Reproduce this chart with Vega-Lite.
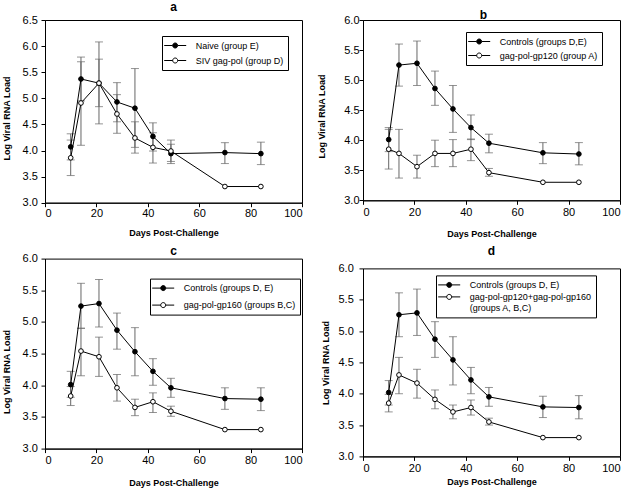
{
  "$schema": "https://vega.github.io/schema/vega-lite/v6.json",
  "padding": {"left": 1, "top": 0, "right": 0, "bottom": 0},
  "background": "white",
  "resolve": {"scale": {"fill": "independent", "x": "independent", "y": "independent"}, "legend": {"fill": "independent"}},
  "config": {
    "font": "Liberation Sans",
    "view": {"stroke": "black", "strokeWidth": 1},
    "axis": {"grid": false, "domainColor": "black", "tickColor": "black", "labelColor": "black", "titleColor": "black", "labelFontSize": 11, "titleFontSize": 9, "titleFontWeight": "bold", "tickSize": 4, "labelPadding": 2, "labelOverlap": false, "labelFont": "Liberation Sans", "titleFont": "Liberation Sans"},
    "title": {"fontSize": 12, "fontWeight": "bold", "color": "black", "frame": "group", "font": "Liberation Sans"},
    "legend": {"title": null, "orient": "none", "strokeColor": "black", "fillColor": "white", "padding": 4, "labelFontSize": 9, "labelFont": "Liberation Sans", "labelColor": "black", "symbolType": "M-2.2,0H-0.5M0.5,0H2.2M0.5,0A0.5,0.5,0,1,1,-0.5,0A0.5,0.5,0,1,1,0.5,0Z", "symbolSize": 100, "symbolStrokeColor": "black", "symbolStrokeWidth": 1, "symbolOffset": 3.7, "labelOffset": 15, "rowPadding": 4}
  },
  "datasets": {
    "a": [
      {"day": 10, "group": "Naive (group E)", "mean": 4.07, "lo": 3.82, "hi": 4.32},
      {"day": 14, "group": "Naive (group E)", "mean": 5.37, "lo": 4.95, "hi": 5.79},
      {"day": 21, "group": "Naive (group E)", "mean": 5.29, "lo": 4.84, "hi": 5.75},
      {"day": 28, "group": "Naive (group E)", "mean": 4.93, "lo": 4.55, "hi": 5.30},
      {"day": 35, "group": "Naive (group E)", "mean": 4.81, "lo": 4.06, "hi": 5.57},
      {"day": 42, "group": "Naive (group E)", "mean": 4.27, "lo": 3.99, "hi": 4.53},
      {"day": 49, "group": "Naive (group E)", "mean": 3.94, "lo": 3.75, "hi": 4.12},
      {"day": 70, "group": "Naive (group E)", "mean": 3.96, "lo": 3.75, "hi": 4.15},
      {"day": 84, "group": "Naive (group E)", "mean": 3.94, "lo": 3.73, "hi": 4.16},
      {"day": 10, "group": "SIV gag-pol (group D)", "mean": 3.86, "lo": 3.52, "hi": 4.20},
      {"day": 14, "group": "SIV gag-pol (group D)", "mean": 4.91, "lo": 4.10, "hi": 5.70},
      {"day": 21, "group": "SIV gag-pol (group D)", "mean": 5.29, "lo": 4.51, "hi": 6.08},
      {"day": 28, "group": "SIV gag-pol (group D)", "mean": 4.70, "lo": 4.33, "hi": 5.07},
      {"day": 35, "group": "SIV gag-pol (group D)", "mean": 4.24, "lo": 3.95, "hi": 4.55},
      {"day": 42, "group": "SIV gag-pol (group D)", "mean": 4.06, "lo": 3.76, "hi": 4.34},
      {"day": 49, "group": "SIV gag-pol (group D)", "mean": 3.99, "lo": 3.79, "hi": 4.20},
      {"day": 70, "group": "SIV gag-pol (group D)", "mean": 3.31, "lo": null, "hi": null},
      {"day": 84, "group": "SIV gag-pol (group D)", "mean": 3.31, "lo": null, "hi": null}
    ],
    "b": [
      {"day": 10, "group": "Controls (groups D,E)", "mean": 4.01, "lo": 3.81, "hi": 4.21},
      {"day": 14, "group": "Controls (groups D,E)", "mean": 5.25, "lo": 4.90, "hi": 5.60},
      {"day": 21, "group": "Controls (groups D,E)", "mean": 5.28, "lo": 4.91, "hi": 5.65},
      {"day": 28, "group": "Controls (groups D,E)", "mean": 4.86, "lo": 4.58, "hi": 5.15},
      {"day": 35, "group": "Controls (groups D,E)", "mean": 4.52, "lo": 4.13, "hi": 4.91},
      {"day": 42, "group": "Controls (groups D,E)", "mean": 4.21, "lo": 4.01, "hi": 4.42},
      {"day": 49, "group": "Controls (groups D,E)", "mean": 3.95, "lo": 3.79, "hi": 4.10},
      {"day": 70, "group": "Controls (groups D,E)", "mean": 3.79, "lo": 3.61, "hi": 3.96},
      {"day": 84, "group": "Controls (groups D,E)", "mean": 3.77, "lo": 3.59, "hi": 3.96},
      {"day": 10, "group": "gag-pol-gp120 (group A)", "mean": 3.85, "lo": 3.52, "hi": 4.18},
      {"day": 14, "group": "gag-pol-gp120 (group A)", "mean": 3.78, "lo": 3.37, "hi": 4.18},
      {"day": 21, "group": "gag-pol-gp120 (group A)", "mean": 3.56, "lo": 3.37, "hi": 3.75},
      {"day": 28, "group": "gag-pol-gp120 (group A)", "mean": 3.78, "lo": 3.56, "hi": 4.00},
      {"day": 35, "group": "gag-pol-gp120 (group A)", "mean": 3.78, "lo": 3.56, "hi": 4.01},
      {"day": 42, "group": "gag-pol-gp120 (group A)", "mean": 3.85, "lo": 3.66, "hi": 4.02},
      {"day": 49, "group": "gag-pol-gp120 (group A)", "mean": 3.46, "lo": 3.40, "hi": 3.53},
      {"day": 70, "group": "gag-pol-gp120 (group A)", "mean": 3.30, "lo": null, "hi": null},
      {"day": 84, "group": "gag-pol-gp120 (group A)", "mean": 3.30, "lo": null, "hi": null}
    ],
    "c": [
      {"day": 10, "group": "Controls (groups D, E)", "mean": 4.01, "lo": 3.81, "hi": 4.22},
      {"day": 14, "group": "Controls (groups D, E)", "mean": 5.25, "lo": 4.90, "hi": 5.61},
      {"day": 21, "group": "Controls (groups D, E)", "mean": 5.29, "lo": 4.92, "hi": 5.67},
      {"day": 28, "group": "Controls (groups D, E)", "mean": 4.87, "lo": 4.57, "hi": 5.14},
      {"day": 35, "group": "Controls (groups D, E)", "mean": 4.53, "lo": 4.15, "hi": 4.91},
      {"day": 42, "group": "Controls (groups D, E)", "mean": 4.22, "lo": 4.00, "hi": 4.42},
      {"day": 49, "group": "Controls (groups D, E)", "mean": 3.96, "lo": 3.81, "hi": 4.11},
      {"day": 70, "group": "Controls (groups D, E)", "mean": 3.79, "lo": 3.62, "hi": 3.96},
      {"day": 84, "group": "Controls (groups D, E)", "mean": 3.78, "lo": 3.60, "hi": 3.96},
      {"day": 10, "group": "gag-pol-gp160 (groups B,C)", "mean": 3.83, "lo": 3.68, "hi": 3.98},
      {"day": 14, "group": "gag-pol-gp160 (groups B,C)", "mean": 4.54, "lo": 4.15, "hi": 4.90},
      {"day": 21, "group": "gag-pol-gp160 (groups B,C)", "mean": 4.45, "lo": 4.14, "hi": 4.76},
      {"day": 28, "group": "gag-pol-gp160 (groups B,C)", "mean": 3.96, "lo": 3.75, "hi": 4.17},
      {"day": 35, "group": "gag-pol-gp160 (groups B,C)", "mean": 3.65, "lo": 3.52, "hi": 3.78},
      {"day": 42, "group": "gag-pol-gp160 (groups B,C)", "mean": 3.74, "lo": 3.57, "hi": 3.88},
      {"day": 49, "group": "gag-pol-gp160 (groups B,C)", "mean": 3.59, "lo": 3.51, "hi": 3.67},
      {"day": 70, "group": "gag-pol-gp160 (groups B,C)", "mean": 3.30, "lo": null, "hi": null},
      {"day": 84, "group": "gag-pol-gp160 (groups B,C)", "mean": 3.30, "lo": null, "hi": null}
    ],
    "d": [
      {"day": 10, "group": "Controls (groups D, E)", "mean": 4.02, "lo": 3.82, "hi": 4.21},
      {"day": 14, "group": "Controls (groups D, E)", "mean": 5.26, "lo": 4.91, "hi": 5.61},
      {"day": 21, "group": "Controls (groups D, E)", "mean": 5.29, "lo": 4.93, "hi": 5.67},
      {"day": 28, "group": "Controls (groups D, E)", "mean": 4.87, "lo": 4.58, "hi": 5.15},
      {"day": 35, "group": "Controls (groups D, E)", "mean": 4.54, "lo": 4.14, "hi": 4.91},
      {"day": 42, "group": "Controls (groups D, E)", "mean": 4.22, "lo": 4.00, "hi": 4.42},
      {"day": 49, "group": "Controls (groups D, E)", "mean": 3.95, "lo": 3.80, "hi": 4.10},
      {"day": 70, "group": "Controls (groups D, E)", "mean": 3.79, "lo": 3.62, "hi": 3.96},
      {"day": 84, "group": "Controls (groups D, E)", "mean": 3.78, "lo": 3.60, "hi": 3.97},
      {"day": 10, "group": "gag-pol-gp120+gag-pol-gp160 (groups A, B,C)", "mean": 3.85, "lo": 3.71, "hi": 3.99},
      {"day": 14, "group": "gag-pol-gp120+gag-pol-gp160 (groups A, B,C)", "mean": 4.30, "lo": 4.00, "hi": 4.58},
      {"day": 21, "group": "gag-pol-gp120+gag-pol-gp160 (groups A, B,C)", "mean": 4.17, "lo": 3.93, "hi": 4.39},
      {"day": 28, "group": "gag-pol-gp120+gag-pol-gp160 (groups A, B,C)", "mean": 3.91, "lo": 3.76, "hi": 4.06},
      {"day": 35, "group": "gag-pol-gp120+gag-pol-gp160 (groups A, B,C)", "mean": 3.71, "lo": 3.60, "hi": 3.82},
      {"day": 42, "group": "gag-pol-gp120+gag-pol-gp160 (groups A, B,C)", "mean": 3.78, "lo": 3.66, "hi": 3.90},
      {"day": 49, "group": "gag-pol-gp120+gag-pol-gp160 (groups A, B,C)", "mean": 3.55, "lo": 3.50, "hi": 3.61},
      {"day": 70, "group": "gag-pol-gp120+gag-pol-gp160 (groups A, B,C)", "mean": 3.30, "lo": null, "hi": null},
      {"day": 84, "group": "gag-pol-gp120+gag-pol-gp160 (groups A, B,C)", "mean": 3.30, "lo": null, "hi": null}
    ]
  },
  "hconcat": [
    {
      "resolve": {"scale": {"fill": "independent", "x": "independent", "y": "independent"}, "legend": {"fill": "independent"}},
      "bounds": "flush",
      "spacing": 55.6,
      "vconcat": [
        {
          "title": {"text": "a", "offset": 0},
          "width": 257, "height": 182.7,
          "data": {"name": "a"},
          "encoding": {"x": {"field": "day", "type": "quantitative", "scale": {"domain": [0, 100], "nice": false}, "axis": {"values": [0, 20, 40, 60, 80, 100], "title": "Days Post-Challenge", "titlePadding": 10, "labelPadding": 1}}},
          "layer": [
            {"transform": [{"filter": "isValid(datum.lo)"}], "mark": {"type": "errorbar", "ticks": {"size": 8}, "color": "#666"},
             "encoding": {"y": {"field": "lo", "type": "quantitative", "scale": {"domain": [3, 6.5], "nice": false}, "axis": {"values": [3, 3.5, 4, 4.5, 5, 5.5, 6, 6.5], "format": ".1f", "title": "Log Viral RNA Load", "titlePadding": 11, "labelPadding": 3.6, "titleY": 98}}, "y2": {"field": "hi"}}},
            {"mark": {"type": "line", "color": "black", "strokeWidth": 1}, "encoding": {"y": {"field": "mean", "type": "quantitative", "scale": {"domain": [3, 6.5], "nice": false}, "axis": {"values": [3, 3.5, 4, 4.5, 5, 5.5, 6, 6.5], "format": ".1f", "title": "Log Viral RNA Load", "titlePadding": 11, "labelPadding": 3.6, "titleY": 98}}, "detail": {"field": "group"}}},
            {"mark": {"type": "point", "shape": "circle", "filled": true, "size": 22, "stroke": "black", "strokeWidth": 1, "opacity": 1},
             "encoding": {"y": {"field": "mean", "type": "quantitative", "scale": {"domain": [3, 6.5], "nice": false}, "axis": {"values": [3, 3.5, 4, 4.5, 5, 5.5, 6, 6.5], "format": ".1f", "title": "Log Viral RNA Load", "titlePadding": 11, "labelPadding": 3.6, "titleY": 98}}, "fill": {"field": "group", "type": "nominal", "scale": {"domain": ["Naive (group E)", "SIV gag-pol (group D)"], "range": ["black", "white"]}, "legend": {"legendX": 117, "legendY": 16}}}}
          ]
        },
        {
          "title": {"text": "c", "offset": -5.7},
          "width": 257, "height": 190,
          "data": {"name": "c"},
          "encoding": {"x": {"field": "day", "type": "quantitative", "scale": {"domain": [0, 100], "nice": false}, "axis": {"values": [0, 20, 40, 60, 80, 100], "title": "Days Post-Challenge", "titlePadding": 13, "labelPadding": 2}}},
          "layer": [
            {"transform": [{"filter": "isValid(datum.lo)"}], "mark": {"type": "errorbar", "ticks": {"size": 8}, "color": "#666"},
             "encoding": {"y": {"field": "lo", "type": "quantitative", "scale": {"domain": [3, 6], "nice": false}, "axis": {"values": [3, 3.5, 4, 4.5, 5, 5.5, 6], "format": ".1f", "title": "Log Viral RNA Load", "titlePadding": 11, "labelPadding": 3.6, "titleY": 113}}, "y2": {"field": "hi"}}},
            {"mark": {"type": "line", "color": "black", "strokeWidth": 1}, "encoding": {"y": {"field": "mean", "type": "quantitative", "scale": {"domain": [3, 6], "nice": false}, "axis": {"values": [3, 3.5, 4, 4.5, 5, 5.5, 6], "format": ".1f", "title": "Log Viral RNA Load", "titlePadding": 11, "labelPadding": 3.6, "titleY": 113}}, "detail": {"field": "group"}}},
            {"mark": {"type": "point", "shape": "circle", "filled": true, "size": 22, "stroke": "black", "strokeWidth": 1, "opacity": 1},
             "encoding": {"y": {"field": "mean", "type": "quantitative", "scale": {"domain": [3, 6], "nice": false}, "axis": {"values": [3, 3.5, 4, 4.5, 5, 5.5, 6], "format": ".1f", "title": "Log Viral RNA Load", "titlePadding": 11, "labelPadding": 3.6, "titleY": 113}}, "fill": {"field": "group", "type": "nominal", "scale": {"domain": ["Controls (groups D, E)", "gag-pol-gp160 (groups B,C)"], "range": ["black", "white"]}, "legend": {"legendX": 105, "legendY": 20, "rowPadding": 6}}}}
          ]
        }
      ]
    },
    {
      "resolve": {"scale": {"fill": "independent", "x": "independent", "y": "independent"}, "legend": {"fill": "independent"}},
      "bounds": "flush",
      "spacing": 67.4,
      "vconcat": [
        {
          "title": {"text": "b", "offset": -8, "dx": -8},
          "width": 257, "height": 180.3,
          "data": {"name": "b"},
          "encoding": {"x": {"field": "day", "type": "quantitative", "scale": {"domain": [0, 100], "nice": false}, "axis": {"values": [0, 20, 40, 60, 80, 100], "title": "Days Post-Challenge", "titlePadding": 12, "labelPadding": 2}}},
          "layer": [
            {"transform": [{"filter": "isValid(datum.lo)"}], "mark": {"type": "errorbar", "ticks": {"size": 8}, "color": "#666"},
             "encoding": {"y": {"field": "lo", "type": "quantitative", "scale": {"domain": [3, 6], "nice": false}, "axis": {"values": [3, 3.5, 4, 4.5, 5, 5.5, 6], "format": ".1f", "title": "Log Viral RNA Load", "titlePadding": 17.4, "labelPadding": 0, "titleY": 96}}, "y2": {"field": "hi"}}},
            {"mark": {"type": "line", "color": "black", "strokeWidth": 1}, "encoding": {"y": {"field": "mean", "type": "quantitative", "scale": {"domain": [3, 6], "nice": false}, "axis": {"values": [3, 3.5, 4, 4.5, 5, 5.5, 6], "format": ".1f", "title": "Log Viral RNA Load", "titlePadding": 17.4, "labelPadding": 0, "titleY": 96}}, "detail": {"field": "group"}}},
            {"mark": {"type": "point", "shape": "circle", "filled": true, "size": 22, "stroke": "black", "strokeWidth": 1, "opacity": 1},
             "encoding": {"y": {"field": "mean", "type": "quantitative", "scale": {"domain": [3, 6], "nice": false}, "axis": {"values": [3, 3.5, 4, 4.5, 5, 5.5, 6], "format": ".1f", "title": "Log Viral RNA Load", "titlePadding": 17.4, "labelPadding": 0, "titleY": 96}}, "fill": {"field": "group", "type": "nominal", "scale": {"domain": ["Controls (groups D,E)", "gag-pol-gp120 (group A)"], "range": ["black", "white"]}, "legend": {"legendX": 103, "legendY": 12, "rowPadding": 3}}}}
          ]
        },
        {
          "title": {"text": "d", "offset": 4},
          "width": 257, "height": 188,
          "data": {"name": "d"},
          "encoding": {"x": {"field": "day", "type": "quantitative", "scale": {"domain": [0, 100], "nice": false}, "axis": {"values": [0, 20, 40, 60, 80, 100], "title": "Days Post-Challenge", "titlePadding": 4, "labelPadding": 2}}},
          "layer": [
            {"transform": [{"filter": "isValid(datum.lo)"}], "mark": {"type": "errorbar", "ticks": {"size": 8}, "color": "#666"},
             "encoding": {"y": {"field": "lo", "type": "quantitative", "scale": {"domain": [3, 6], "nice": false}, "axis": {"values": [3, 3.5, 4, 4.5, 5, 5.5, 6], "format": ".1f", "title": "Log Viral RNA Load", "titlePadding": 7.2, "labelPadding": 5.7}}, "y2": {"field": "hi"}}},
            {"mark": {"type": "line", "color": "black", "strokeWidth": 1}, "encoding": {"y": {"field": "mean", "type": "quantitative", "scale": {"domain": [3, 6], "nice": false}, "axis": {"values": [3, 3.5, 4, 4.5, 5, 5.5, 6], "format": ".1f", "title": "Log Viral RNA Load", "titlePadding": 7.2, "labelPadding": 5.7}}, "detail": {"field": "group"}}},
            {"mark": {"type": "point", "shape": "circle", "filled": true, "size": 22, "stroke": "black", "strokeWidth": 1, "opacity": 1},
             "encoding": {"y": {"field": "mean", "type": "quantitative", "scale": {"domain": [3, 6], "nice": false}, "axis": {"values": [3, 3.5, 4, 4.5, 5, 5.5, 6], "format": ".1f", "title": "Log Viral RNA Load", "titlePadding": 7.2, "labelPadding": 5.7}}, "fill": {"field": "group", "type": "nominal", "scale": {"domain": ["Controls (groups D, E)", "gag-pol-gp120+gag-pol-gp160 (groups A, B,C)"], "range": ["black", "white"]}, "legend": {"legendX": 73, "legendY": 7, "rowPadding": 1, "labelExpr": "datum.label == 'gag-pol-gp120+gag-pol-gp160 (groups A, B,C)' ? ['gag-pol-gp120+gag-pol-gp160', '(groups A, B,C)'] : datum.label"}}}}
          ]
        }
      ]
    }
  ],
  "spacing": 13
}
